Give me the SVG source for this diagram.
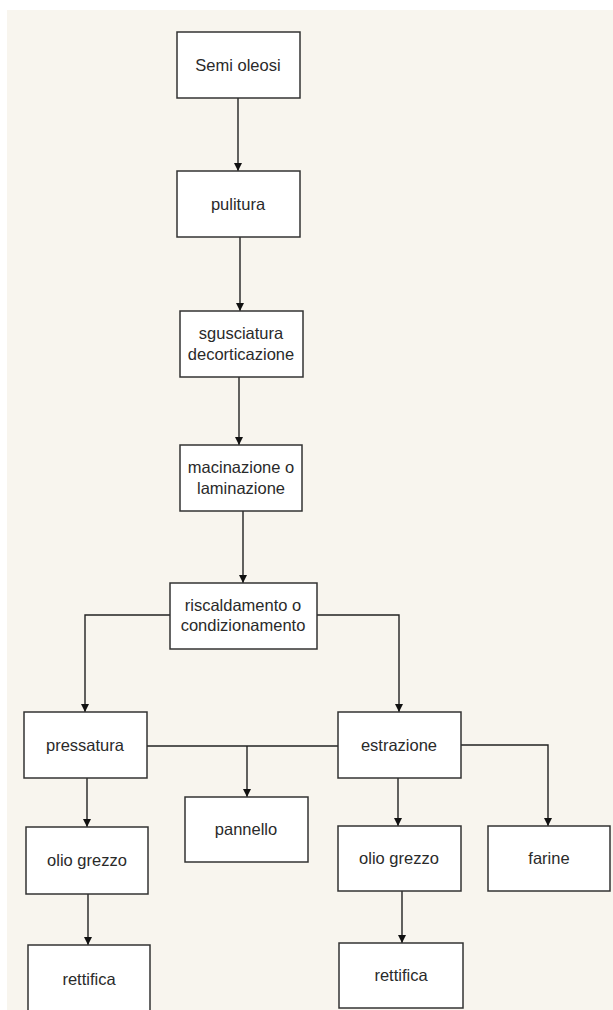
<svg xmlns="http://www.w3.org/2000/svg" width="613" height="1010" viewBox="0 0 613 1010">
<style>
.box{fill:#ffffff;stroke:#333333;stroke-width:1.5}
.lbl{font-family:"Liberation Sans",Arial,sans-serif;font-size:16.5px;fill:#2a2a2a;text-anchor:middle}
.ln{fill:none;stroke:#222222;stroke-width:1.4}
</style>
<defs>
<marker id="arr" viewBox="0 0 8 8" refX="8" refY="4" markerWidth="8" markerHeight="8" markerUnits="userSpaceOnUse" orient="auto">
<path d="M0,0 L8,4 L0,8 Z" fill="#111111"/>
</marker>
</defs>
<rect x="0" y="0" width="613" height="1010" fill="#ffffff"/>
<rect x="7" y="10" width="606" height="1000" fill="#f8f5ee"/>
<g id="connectors">
<path class="ln" d="M238,98 V171" marker-end="url(#arr)"/>
<path class="ln" d="M240,237 V311" marker-end="url(#arr)"/>
<path class="ln" d="M239,377 V445" marker-end="url(#arr)"/>
<path class="ln" d="M243,511 V583" marker-end="url(#arr)"/>
<path class="ln" d="M170,615 H85 V712" marker-end="url(#arr)"/>
<path class="ln" d="M317,615 H399 V712" marker-end="url(#arr)"/>
<path class="ln" d="M87,778 V827" marker-end="url(#arr)"/>
<path class="ln" d="M147,746 H338"/>
<path class="ln" d="M247,746 V797" marker-end="url(#arr)"/>
<path class="ln" d="M398,778 V826" marker-end="url(#arr)"/>
<path class="ln" d="M461,745 H548 V826" marker-end="url(#arr)"/>
<path class="ln" d="M88,894 V945" marker-end="url(#arr)"/>
<path class="ln" d="M402,891 V943" marker-end="url(#arr)"/>
</g>
<g id="semi-oleosi"><rect class="box" x="177" y="32" width="123" height="66"/><text class="lbl" x="238" y="71">Semi oleosi</text></g>
<g id="pulitura"><rect class="box" x="177" y="171" width="123" height="66"/><text class="lbl" x="238" y="210">pulitura</text></g>
<g id="sgusciatura"><rect class="box" x="180" y="311" width="123" height="66"/><text class="lbl" x="241" y="339">sgusciatura</text><text class="lbl" x="241" y="360">decorticazione</text></g>
<g id="macinazione"><rect class="box" x="180" y="445" width="122" height="66"/><text class="lbl" x="241" y="473">macinazione o</text><text class="lbl" x="241" y="494">laminazione</text></g>
<g id="riscaldamento"><rect class="box" x="170" y="583" width="147" height="66"/><text class="lbl" x="243" y="611">riscaldamento o</text><text class="lbl" x="243" y="631">condizionamento</text></g>
<g id="pressatura"><rect class="box" x="24" y="712" width="123" height="66"/><text class="lbl" x="85" y="751">pressatura</text></g>
<g id="estrazione"><rect class="box" x="338" y="712" width="123" height="66"/><text class="lbl" x="399" y="751">estrazione</text></g>
<g id="pannello"><rect class="box" x="185" y="797" width="123" height="65"/><text class="lbl" x="246" y="835">pannello</text></g>
<g id="olio-grezzo-1"><rect class="box" x="26" y="827" width="122" height="67"/><text class="lbl" x="87" y="866">olio grezzo</text></g>
<g id="olio-grezzo-2"><rect class="box" x="338" y="826" width="123" height="65"/><text class="lbl" x="399" y="864">olio grezzo</text></g>
<g id="farine"><rect class="box" x="488" y="826" width="122" height="65"/><text class="lbl" x="549" y="864">farine</text></g>
<g id="rettifica-1"><rect class="box" x="28" y="945" width="122" height="80"/><text class="lbl" x="89" y="985">rettifica</text></g>
<g id="rettifica-2"><rect class="box" x="339" y="943" width="124" height="65"/><text class="lbl" x="401" y="981">rettifica</text></g>
</svg>
